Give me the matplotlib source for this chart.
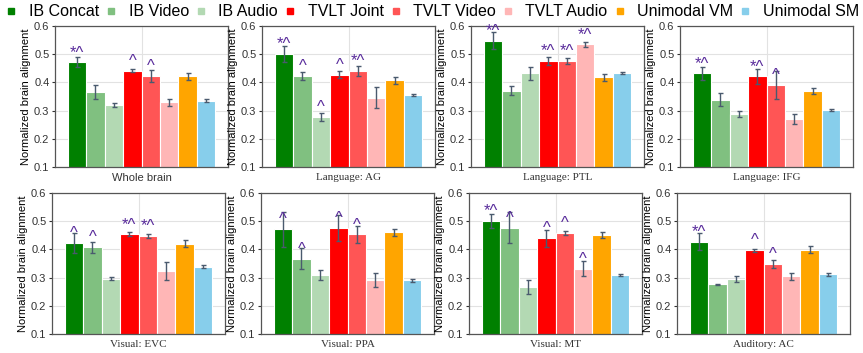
import matplotlib
matplotlib.use("Agg")
import matplotlib.pyplot as plt
from matplotlib.lines import Line2D

plt.rcParams['font.family'] = ['Liberation Sans', 'DejaVu Sans']

models = ["IB Concat", "IB Video", "IB Audio", "TVLT Joint", "TVLT Video",
          "TVLT Audio", "Unimodal VM", "Unimodal SM"]
colors = ["#008000", "#80c080", "#b3d9b3", "#ff0000", "#ff5555",
          "#ffb6b6", "#ffa500", "#87ceeb"]

regions = ["Whole brain", "Language: AG", "Language: PTL", "Language: IFG",
           "Visual: EVC", "Visual: PPA", "Visual: MT", "Auditory: AC"]

means = [
    [0.471, 0.367, 0.319, 0.442, 0.423, 0.329, 0.421, 0.335],
    [0.502, 0.423, 0.278, 0.427, 0.440, 0.346, 0.407, 0.356],
    [0.548, 0.370, 0.432, 0.476, 0.476, 0.535, 0.418, 0.434],
    [0.432, 0.339, 0.288, 0.421, 0.391, 0.271, 0.369, 0.303],
    [0.422, 0.408, 0.296, 0.453, 0.447, 0.324, 0.420, 0.339],
    [0.472, 0.367, 0.309, 0.476, 0.453, 0.291, 0.461, 0.290],
    [0.500, 0.476, 0.267, 0.440, 0.458, 0.331, 0.451, 0.309],
    [0.428, 0.277, 0.296, 0.397, 0.349, 0.304, 0.399, 0.312],
]
errors = [
    [0.018, 0.025, 0.008, 0.005, 0.020, 0.012, 0.012, 0.005],
    [0.028, 0.015, 0.015, 0.013, 0.018, 0.036, 0.012, 0.004],
    [0.030, 0.016, 0.022, 0.015, 0.011, 0.010, 0.012, 0.004],
    [0.023, 0.022, 0.011, 0.027, 0.049, 0.018, 0.011, 0.004],
    [0.036, 0.019, 0.005, 0.007, 0.007, 0.033, 0.012, 0.005],
    [0.062, 0.037, 0.018, 0.047, 0.031, 0.025, 0.012, 0.005],
    [0.025, 0.055, 0.024, 0.030, 0.006, 0.027, 0.012, 0.004],
    [0.030, 0.002, 0.010, 0.005, 0.015, 0.011, 0.013, 0.005],
]
marks = [
    ["*^", "", "", "^", "^", "", "", ""],
    ["*^", "^", "^", "^", "*^", "", "", ""],
    ["*^", "", "", "*^", "*^", "*^", "", ""],
    ["*^", "", "", "*^", "^", "", "", ""],
    ["^", "^", "", "*^", "*^", "", "", ""],
    ["^", "^", "", "^", "^", "", "", ""],
    ["*^", "^", "", "^", "^", "^", "", ""],
    ["*^", "", "", "^", "^", "", "", ""],
]

W, H = 863, 353
fig = plt.figure(figsize=(W / 100, H / 100), dpi=100)

lefts = [[55, 262, 471, 680], [52, 261, 469, 677]]
tops = [26, 193]
aw, ah = 173, 141

for i, region in enumerate(regions):
    r, c = divmod(i, 4)
    ax = fig.add_axes([lefts[r][c] / W, (H - tops[r] - ah) / H, aw / W, ah / H])
    x = list(range(len(models)))
    ax.bar(x, means[i], width=1.0, color=colors, edgecolor="white",
           linewidth=0.8, zorder=2)
    ax.errorbar(x, means[i], yerr=errors[i], fmt="none", ecolor="#4a5a6e",
                elinewidth=1, capsize=1.8, capthick=1, zorder=3)
    for j, m in enumerate(marks[i]):
        if m:
            ax.text(j, means[i][j] + 0.017, m, ha="center", va="baseline",
                    fontsize=12, color="#5a2d9c", clip_on=False, zorder=4)
    ax.set_xlim(-1.2, 8.2)
    ax.set_ylim(0.1, 0.6)
    ax.set_yticks([0.1, 0.2, 0.3, 0.4, 0.5, 0.6])
    ax.set_xticks([3.5])
    if i == 0:
        ax.set_xticklabels([region], fontsize=8)
    else:
        ax.set_xticklabels([region], fontsize=8, family="Liberation Serif")
    ax.tick_params(axis="both", length=2, pad=2, colors="#333333", labelsize=8)
    ax.tick_params(axis="x", length=0, pad=4)
    ax.set_ylabel("Normalized brain alignment", fontsize=8, labelpad=2)
    ax.grid(True, color="#e2e2e2", linewidth=0.8, zorder=0)
    ax.set_axisbelow(True)
    for s in ax.spines.values():
        s.set_color("#555555")
        s.set_linewidth(0.9)

handles = [Line2D([], [], marker="s", linestyle="none", markersize=5,
                  markerfacecolor=col, markeredgecolor=col) for col in colors]
fig.legend(handles, models, loc="center", bbox_to_anchor=(0.501, 1 - 12 / H),
           ncol=8, frameon=False, fontsize=11.5, handlelength=0.7,
           handletextpad=0.75, columnspacing=0.4, borderaxespad=0,
           borderpad=0)

fig.savefig("out.png", dpi=100)
